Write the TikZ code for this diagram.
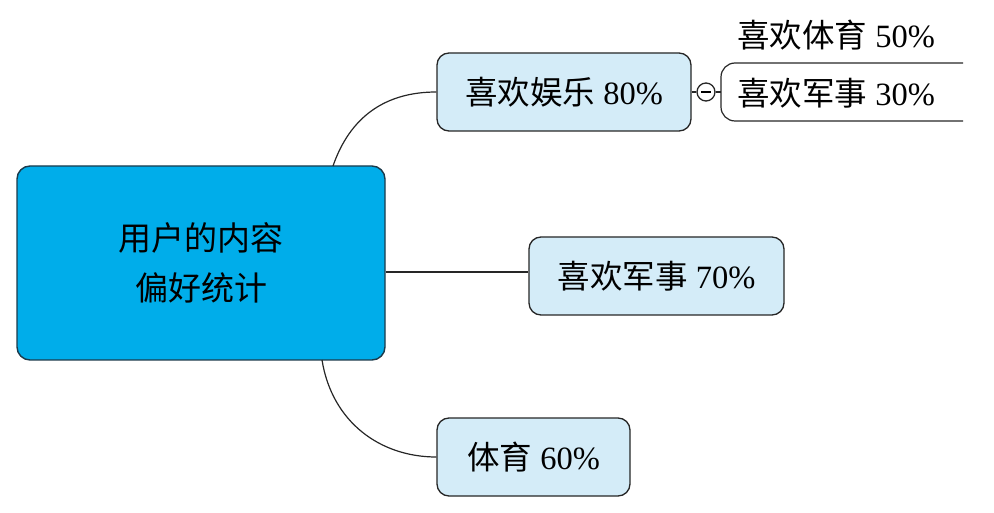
\documentclass[tikz,border=0pt]{standalone}
\usepackage{fontspec}
\usetikzlibrary{calc}
\setmainfont{Liberation Serif}
\newfontfamily\cjk{Noto Sans CJK SC}
\definecolor{rootfill}{HTML}{00ADEA}
\definecolor{rootdraw}{HTML}{1B3A4B}
\definecolor{subfill}{HTML}{D4ECF8}
\definecolor{subdraw}{HTML}{262626}
\begin{document}
\begin{tikzpicture}[x=1pt,y=1pt,
  rootbox/.style={draw=rootdraw,line width=1.4pt,fill=rootfill,rounded corners=13pt,
    minimum width=368pt,minimum height=194pt,inner sep=0pt,align=center,
    font=\fontsize{33}{50}\selectfont\cjk},
  subbox/.style={draw=subdraw,line width=1.3pt,fill=subfill,rounded corners=12pt,
    minimum height=78pt,inner sep=0pt,font=\fontsize{32.5}{36}\selectfont},
  leaf/.style={inner sep=0pt,anchor=west,font=\fontsize{32.5}{36}\selectfont},
  conn/.style={draw=subdraw,line width=1.2pt}]
\useasboundingbox (0,0) rectangle (994,512);
\node[rootbox] (root) at (201,249) {用户的内容\\偏好统计};
\node[subbox,minimum width=254pt] (n1) at (564,420) {{\cjk 喜欢娱乐} 80\%};
\node[subbox,minimum width=255pt] (n2) at (656.5,236) {{\cjk 喜欢军事} 70\%};
\node[subbox,minimum width=193pt] (n3) at (533.5,55) {{\cjk 体育} 60\%};
\node[leaf] (l1) at (737,477) {{\cjk 喜欢体育} 50\%};
\node[leaf] (l2) at (737,419) {{\cjk 喜欢军事} 30\%};
% connectors
\coordinate (rtop) at (333,346);
\coordinate (rbot) at (322,152);
\coordinate (rright) at (root.east |- 0,240);
\coordinate (n2in) at (n2.west |- 0,240);
\draw[conn] (rtop) .. controls (350,395) and (385,420) .. (n1.west);
\draw[conn] (rright) -- (n2in);
\draw[conn] (rbot) .. controls (332,90) and (380,55) .. (n3.west);
% collapse toggle
\node[draw=subdraw,line width=1.3pt,circle,minimum size=18pt,inner sep=0pt,fill=white] (tog) at (706,420) {};
\draw[line width=1.3pt] ($(tog.center)+(-5,0)$) -- ($(tog.center)+(5,0)$);
\draw[conn] (n1.east) -- (tog.west);
\coordinate (br) at (721,420);
\coordinate (brtop) at (963,449);
\coordinate (brbot) at (963,391);
\draw[conn] (tog.east) -- (br);
\draw[conn,rounded corners=14pt] (brtop) -- (721,449) -- (721,391) -- (brbot);
\end{tikzpicture}
\end{document}
